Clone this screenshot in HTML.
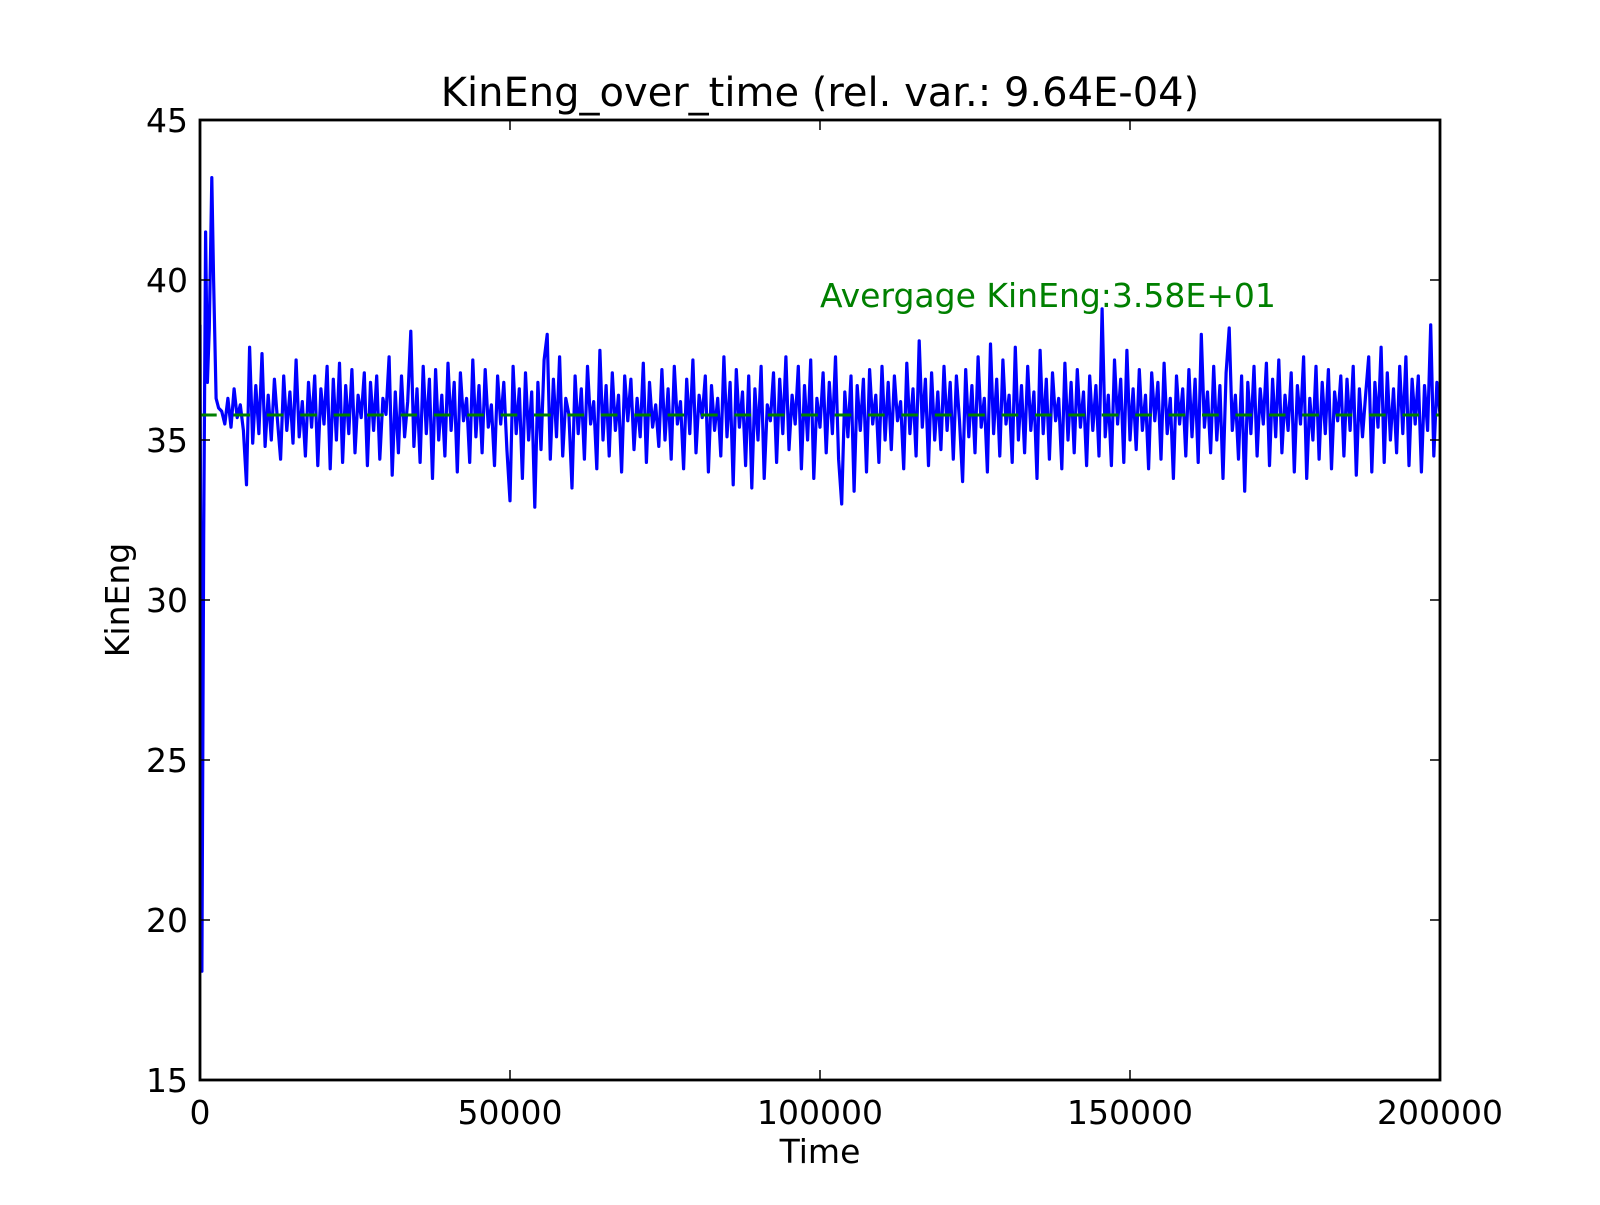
<!DOCTYPE html>
<html><head><meta charset="utf-8"><style>
html,body{margin:0;padding:0;background:#fff;}
svg text{font-family:"DejaVu Sans","Liberation Sans",sans-serif;}
</style></head><body>
<svg id="chart" width="1600" height="1200" xmlns="http://www.w3.org/2000/svg"></svg>
<script>
const earlyTimes=[0,300,600,900,1200,1500,1900,2200,2600,3000];
const earlyValues=[38.6,18.4,32.0,41.5,36.8,38.5,43.2,40.0,36.3,36.0];
const noiseStart=3500, noiseStep=500;
const noiseValues=[
35.9,35.5,36.3,35.4,36.6,35.7,36.1,35.3,33.6,37.9,34.9,36.7,35.2,37.7,34.8,36.4,35.0,36.9,35.6,34.4,
37.0,35.3,36.5,34.9,37.5,35.1,36.2,34.5,36.8,35.4,37.0,34.2,36.6,35.5,37.3,34.1,36.9,35.0,37.4,34.3,
36.7,35.2,37.2,34.6,36.4,35.7,37.1,34.2,36.8,35.3,37.0,34.4,36.3,35.8,37.6,33.9,36.5,34.6,37.0,35.1,
36.2,38.4,34.8,36.6,34.3,37.3,35.2,36.9,33.8,37.2,35.0,36.4,34.5,37.4,35.3,36.8,34.0,37.1,35.6,36.3,
34.3,37.5,35.1,36.7,34.6,37.2,35.4,36.1,34.2,37.0,35.5,36.8,34.7,33.1,37.3,35.2,36.6,33.8,37.1,35.0,
36.5,32.9,36.8,34.7,37.5,38.3,34.4,36.9,35.1,37.6,34.5,36.3,35.8,33.5,37.0,35.2,36.6,34.4,37.3,35.5,
36.2,34.1,37.8,35.0,36.7,34.5,37.1,35.3,36.4,34.0,37.0,35.6,36.9,34.7,36.3,35.1,37.4,34.3,36.8,35.4,
36.1,34.8,37.2,35.0,36.6,34.4,37.3,35.5,36.2,34.1,36.9,35.2,37.5,34.6,36.4,35.7,37.0,34.0,36.7,35.3,
36.3,34.5,37.6,35.1,36.8,33.6,37.2,35.4,36.5,34.2,37.0,33.5,36.6,35.0,37.3,33.8,36.1,35.6,37.1,34.3,
36.9,35.2,37.6,34.7,36.4,35.5,37.3,34.1,36.7,35.0,37.5,33.8,36.3,35.4,37.1,34.6,36.8,35.2,37.6,34.4,
33.0,36.5,35.1,37.0,33.4,36.7,35.3,36.9,34.0,37.2,35.5,36.4,34.3,37.3,35.0,36.8,34.7,37.0,35.6,36.2,
34.1,37.4,35.2,36.6,34.5,38.1,35.4,36.9,34.2,37.1,35.0,36.5,34.7,37.3,35.3,36.8,34.4,37.0,35.6,33.7,
37.2,35.1,36.7,34.6,37.6,35.4,36.3,34.0,38.0,35.2,36.9,34.5,37.5,35.5,36.4,34.3,37.9,35.0,36.7,34.6,
37.3,35.3,36.5,33.8,37.8,35.2,36.9,34.4,37.1,35.6,36.3,34.1,37.4,35.0,36.8,34.6,37.2,35.4,36.5,34.2,
37.0,35.3,36.7,34.5,39.1,35.1,36.4,34.2,37.5,35.5,36.9,34.3,37.8,35.0,36.6,34.7,37.2,35.3,36.4,34.1,
37.1,35.6,36.8,34.4,37.4,35.2,36.3,33.8,37.0,35.5,36.6,34.5,37.2,35.1,36.9,34.3,38.3,35.4,36.5,34.6,
37.3,35.0,36.7,33.8,37.1,38.5,35.3,36.4,34.4,37.0,33.4,36.8,35.2,37.3,34.5,36.6,35.5,37.4,34.2,36.9,
35.1,37.5,34.6,36.4,35.3,37.1,34.0,36.7,35.5,37.6,33.8,36.3,35.0,37.3,34.4,36.8,35.2,37.2,34.1,36.5,
35.6,37.0,34.5,36.9,35.3,37.3,33.9,36.6,35.1,36.4,37.6,34.0,36.8,35.4,37.9,34.3,37.1,35.0,36.6,34.6,
37.3,35.2,37.6,34.2,36.9,35.5,37.0,34.0,36.7,35.3,38.6,34.5,36.8,35.8];
const averageValue=35.78;
const xTicks=[0,50000,100000,150000,200000];
const yTicks=[15,20,25,30,35,40,45];

const L=200,R=1440,T=120,B=1080,xMin=0,xMax=200000,yMin=15,yMax=45;
const sx=v=>L+(v-xMin)/(xMax-xMin)*(R-L);
const sy=v=>B-(v-yMin)/(yMax-yMin)*(B-T);
const svg=document.getElementById('chart');
const NS='http://www.w3.org/2000/svg';
function mk(tag,attrs){const e=document.createElementNS(NS,tag);for(const k in attrs)e.setAttribute(k,attrs[k]);svg.appendChild(e);return e;}

const clip=document.createElementNS(NS,'clipPath');clip.setAttribute('id','pc');
const cr=document.createElementNS(NS,'rect');cr.setAttribute('x',L);cr.setAttribute('y',T);cr.setAttribute('width',R-L);cr.setAttribute('height',B-T);
clip.appendChild(cr);svg.appendChild(clip);

const times=earlyTimes.slice(),vals=earlyValues.slice();
noiseValues.forEach((v,i)=>{times.push(noiseStart+i*noiseStep);vals.push(v);});
let d='';times.forEach((t,i)=>{d+=(i?'L':'M')+sx(t).toFixed(1)+','+sy(vals[i]).toFixed(1);});
const line=mk('path',{d:d,fill:'none',stroke:'#0000ff','stroke-width':3.2,'stroke-linejoin':'round','clip-path':'url(#pc)'});



const avg=mk('line',{x1:L,x2:R,y1:sy(averageValue),y2:sy(averageValue),stroke:'#008000','stroke-width':3,'stroke-dasharray':'16.7,16.7'});



const frame=mk('rect',{x:L,y:T,width:R-L,height:B-T,fill:'none',stroke:'#000','stroke-width':2.8});



xTicks.forEach(v=>{
  const x=sx(v);
  mk('line',{x1:x,x2:x,y1:B,y2:B-10,stroke:'#000','stroke-width':1.5});
  mk('line',{x1:x,x2:x,y1:T,y2:T+10,stroke:'#000','stroke-width':1.5});
  const t=mk('text',{x:x,y:B+44,'font-size':33,'text-anchor':'middle'});t.textContent=v;
  
  
});
yTicks.forEach(v=>{
  const y=sy(v);
  mk('line',{x1:L,x2:L+10,y1:y,y2:y,stroke:'#000','stroke-width':1.5});
  mk('line',{x1:R,x2:R-10,y1:y,y2:y,stroke:'#000','stroke-width':1.5});
  const t=mk('text',{x:L-12,y:y+12,'font-size':33,'text-anchor':'end'});t.textContent=v;
  
  
});
const title=mk('text',{x:(L+R)/2,y:T-14,'font-size':40,'text-anchor':'middle'});
title.textContent='KinEng_over_time (rel. var.: 9.64E-04)';


const xl=mk('text',{x:(L+R)/2,y:1163,'font-size':33,'text-anchor':'middle'});xl.textContent='Time';


const yl=mk('text',{x:0,y:0,'font-size':33,'text-anchor':'middle',transform:'translate(129,'+((T+B)/2)+') rotate(-90)'});yl.textContent='KinEng';


const ann=mk('text',{x:sx(100000),y:sy(39.15),'font-size':33,fill:'#008000'});ann.textContent='Avergage KinEng:3.58E+01';


</script>
</body></html>
